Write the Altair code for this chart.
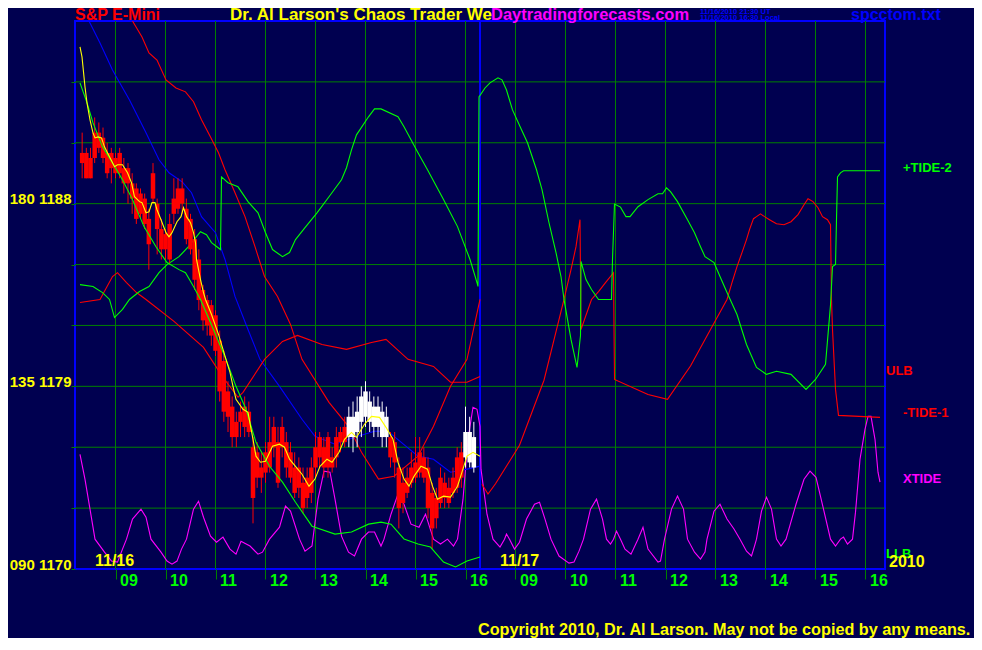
import altair as alt
import pandas as pd

BG = "#000050"
GRID = "#008000"
FONT = "Liberation Sans"

# x is session clock time in hours; the 11/17 session is shifted by +8 h so both days sit side by side
X_DOMAIN = [8.29, 24.29]
Y_DOMAIN = [1170, 1197]
DAY_SPLIT = 16.29
GRID_Y = [1173, 1176, 1179, 1182, 1185, 1188, 1191, 1194]
Y_TICKS = [1170, 1173, 1176, 1179, 1182, 1185, 1188, 1191, 1194]
Y_LABEL_PRICES = [1188, 1179, 1170]
Y_LABEL_DEGREES = ["180", "135", "090"]
HOUR_TICKS = [9, 10, 11, 12, 13, 14, 15, 16, 17, 18, 19, 20, 21, 22, 23, 24]
HOUR_LABELS = ["09", "10", "11", "12", "13", "14", "15", "16",
               "09", "10", "11", "12", "13", "14", "15", "16"]

# ---- 5 minute price bars, 11/16 ----
BAR_TIMES = (
    "08:20 08:25 08:30 08:35 08:40 08:45 08:50 08:55 "
    "09:00 09:05 09:10 09:15 09:20 09:25 09:30 09:35 09:40 09:45 09:50 09:55 "
    "10:00 10:05 10:10 10:15 10:20 10:25 10:30 10:35 10:40 10:45 10:50 10:55 "
    "11:00 11:05 11:10 11:15 11:20 11:25 11:30 11:35 11:40 11:45 11:50 11:55 "
    "12:00 12:05 12:10 12:15 12:20 12:25 12:30 12:35 12:40 12:45 12:50 12:55 "
    "13:00 13:05 13:10 13:15 13:20 13:25 13:30 13:35 13:40 13:45 13:50 13:55 "
    "14:00 14:05 14:10 14:15 14:20 14:25 14:30 14:35 14:40 14:45 14:50 14:55 "
    "15:00 15:05 15:10 15:15 15:20 15:25 15:30 15:35 15:40 15:45 15:50 15:55 "
    "16:00 16:05 16:10"
).split()
BAR_HIGH = [
    1191.5, 1190.75, 1190.75, 1192.25, 1192.0, 1191.75, 1191.0, 1190.75, 1190.5, 1190.75,
    1190.25, 1190.0, 1189.5, 1189.0, 1188.75, 1188.5, 1187.75, 1190.0, 1188.25, 1187.25,
    1186.75, 1187.5, 1189.25, 1189.25, 1189.25, 1188.25, 1187.5, 1186.75, 1185.75, 1184.0,
    1183.5, 1183.25, 1182.75, 1181.75, 1180.75, 1179.25, 1178.5, 1177.75, 1178.25, 1178.5,
    1178.25, 1176.5, 1176.25, 1175.75, 1176.25, 1177.5, 1177.5, 1177.0, 1177.5, 1176.75,
    1176.25, 1175.75, 1175.5, 1175.0, 1175.0, 1175.5, 1176.75, 1176.75, 1176.5, 1176.75,
    1176.0, 1177.0, 1177.0, 1177.5, 1178.0, 1178.25, 1178.5, 1179.0, 1179.25, 1178.75,
    1178.5, 1178.5, 1178.25, 1178.0, 1176.75, 1176.75, 1175.5, 1175.0, 1175.0, 1175.75,
    1176.5, 1176.5, 1176.0, 1175.5, 1174.25, 1174.0, 1175.0, 1174.75, 1174.5, 1175.0,
    1176.0, 1176.25, 1178.0, 1177.5, 1177.25]
BAR_LOW = [
    1189.25, 1189.25, 1189.25, 1190.0, 1190.5, 1190.0, 1189.25, 1189.0, 1189.25, 1189.25,
    1188.5, 1188.0, 1187.5, 1187.0, 1187.25, 1186.75, 1184.75, 1188.0, 1185.5, 1185.25,
    1185.25, 1185.0, 1187.0, 1187.5, 1187.5, 1186.0, 1185.5, 1183.75, 1182.75, 1181.75,
    1181.5, 1181.0, 1180.5, 1178.25, 1177.25, 1176.75, 1176.0, 1176.0, 1176.5, 1176.5,
    1176.5, 1172.25, 1174.0, 1173.75, 1174.25, 1174.75, 1175.5, 1174.0, 1175.5, 1174.5,
    1174.25, 1173.5, 1173.5, 1172.75, 1173.0, 1173.25, 1174.5, 1175.0, 1174.5, 1174.5,
    1174.75, 1175.0, 1175.75, 1176.0, 1176.0, 1175.75, 1176.0, 1176.5, 1177.0, 1176.75,
    1176.5, 1176.5, 1176.0, 1176.0, 1175.0, 1174.5, 1172.0, 1172.75, 1173.5, 1174.0,
    1174.25, 1174.5, 1174.25, 1172.5, 1171.0, 1172.0, 1173.0, 1173.0, 1173.0, 1173.5,
    1173.75, 1174.0, 1175.0, 1175.0, 1174.75]
BAR_BODY_TOP = [
    1190.5, 1190.5, 1190.25, 1191.5, 1191.5, 1191.25, 1190.5, 1190.5, 1190.25, 1190.5,
    1189.75, 1189.75, 1189.0, 1188.75, 1188.5, 1188.25, 1187.25, 1189.5, 1188.0, 1186.75,
    1186.5, 1187.0, 1188.25, 1188.75, 1188.75, 1187.75, 1187.25, 1186.25, 1185.25, 1183.75,
    1183.25, 1183.0, 1182.5, 1181.25, 1180.25, 1178.75, 1178.0, 1177.25, 1177.75, 1178.0,
    1177.75, 1176.0, 1175.75, 1175.0, 1175.75, 1176.25, 1177.0, 1176.25, 1177.0, 1176.25,
    1175.75, 1175.0, 1175.0, 1174.25, 1174.5, 1175.0, 1176.0, 1176.5, 1176.0, 1176.5,
    1175.5, 1176.5, 1176.75, 1177.0, 1177.5, 1177.5, 1177.75, 1178.5, 1178.75, 1178.25,
    1178.0, 1178.0, 1177.75, 1177.5, 1176.5, 1176.25, 1175.0, 1174.25, 1174.5, 1175.0,
    1175.25, 1175.75, 1175.5, 1175.0, 1173.75, 1173.5, 1174.5, 1174.25, 1174.0, 1174.5,
    1175.5, 1175.75, 1176.75, 1176.75, 1176.5]
BAR_BODY_BOTTOM = [
    1190.0, 1189.25, 1189.25, 1190.25, 1190.75, 1190.25, 1189.5, 1189.75, 1189.5, 1189.5,
    1189.0, 1189.0, 1188.25, 1187.25, 1187.5, 1187.0, 1186.0, 1188.25, 1186.75, 1185.75,
    1185.75, 1185.25, 1187.5, 1187.75, 1188.0, 1186.25, 1185.75, 1184.25, 1183.25, 1182.25,
    1182.0, 1181.5, 1180.75, 1178.75, 1177.75, 1177.5, 1176.5, 1176.5, 1177.25, 1177.0,
    1176.75, 1173.5, 1174.5, 1174.5, 1174.75, 1175.0, 1176.0, 1174.25, 1176.0, 1175.0,
    1174.5, 1173.75, 1174.0, 1173.0, 1173.5, 1173.75, 1175.0, 1175.5, 1175.0, 1175.0,
    1175.0, 1175.5, 1176.25, 1176.25, 1176.5, 1176.5, 1176.75, 1177.25, 1177.5, 1177.25,
    1177.0, 1177.0, 1176.5, 1176.5, 1175.5, 1175.25, 1173.0, 1173.25, 1173.75, 1174.25,
    1174.5, 1174.75, 1174.5, 1173.0, 1172.0, 1172.5, 1173.25, 1173.5, 1173.25, 1173.75,
    1174.0, 1174.5, 1175.5, 1175.25, 1175.0]
BAR_COLOR = (["red"] * 64 + ["white"] * 10 + ["red"] * 18 + ["white"] * 3)

# ---- indicator lines: (session hour, price) ----
YELLOW_AVG = [
    (8.29, 1195.72), (8.33, 1195.23), (8.39, 1193.75), (8.43, 1192.97), (8.49, 1192.13),
    (8.55, 1191.49), (8.59, 1191.24), (8.65, 1191.29), (8.72, 1191.24), (8.78, 1190.80),
    (8.88, 1190.31), (8.98, 1189.82), (9.04, 1189.92), (9.14, 1189.92), (9.24, 1189.52),
    (9.32, 1189.03), (9.38, 1188.34), (9.48, 1188.10), (9.53, 1188.05), (9.61, 1187.55),
    (9.67, 1187.60), (9.73, 1188.05), (9.79, 1188.05), (9.83, 1187.70), (9.91, 1187.21),
    (10.01, 1186.57), (10.07, 1186.37), (10.13, 1186.57), (10.23, 1187.11), (10.31, 1187.36),
    (10.36, 1187.80), (10.42, 1187.36), (10.50, 1187.06), (10.56, 1186.57), (10.60, 1186.08),
    (10.62, 1185.25), (10.70, 1184.26), (10.76, 1183.62), (10.80, 1183.28), (10.92, 1182.54),
    (11.06, 1181.56), (11.21, 1180.33), (11.29, 1179.69), (11.35, 1179.00), (11.41, 1178.36),
    (11.55, 1177.87), (11.65, 1177.72), (11.75, 1176.39), (11.81, 1175.56), (11.90, 1175.26),
    (12.00, 1175.31), (12.14, 1176.05), (12.28, 1176.15), (12.38, 1176.00), (12.48, 1175.41),
    (12.60, 1175.06), (12.73, 1174.67), (12.87, 1174.08), (12.99, 1174.43), (13.09, 1175.06),
    (13.23, 1175.41), (13.33, 1175.26), (13.47, 1175.75), (13.58, 1176.39), (13.72, 1176.73),
    (13.82, 1176.49), (13.98, 1177.13), (14.12, 1177.52), (14.28, 1177.47), (14.41, 1176.98),
    (14.55, 1176.39), (14.65, 1175.26), (14.77, 1174.43), (14.87, 1174.08), (14.97, 1174.57),
    (15.11, 1175.06), (15.24, 1174.92), (15.34, 1174.08), (15.44, 1173.44), (15.56, 1173.59),
    (15.70, 1173.54), (15.84, 1174.08), (15.93, 1174.77), (16.03, 1175.56), (16.15, 1175.75),
    (16.29, 1175.56)]
BLUE_LINE = [
    (8.47, 1197.0), (8.69, 1195.92), (8.94, 1194.59), (9.28, 1193.11), (9.61, 1191.49),
    (9.87, 1190.16), (10.07, 1189.52), (10.33, 1189.08), (10.52, 1188.54), (10.72, 1187.36),
    (11.00, 1186.57), (11.19, 1185.25), (11.39, 1183.43), (11.65, 1181.80), (11.89, 1180.33),
    (12.28, 1179.00), (12.73, 1177.38), (12.99, 1176.54), (13.39, 1176.15), (13.78, 1176.49),
    (14.18, 1176.79), (14.45, 1176.79), (14.71, 1176.25), (15.05, 1175.56), (15.36, 1175.41),
    (15.70, 1174.77), (16.03, 1174.92), (16.29, 1175.07)]
LLB = [
    (8.29, 1193.95), (8.43, 1192.97), (8.55, 1191.98), (8.74, 1190.80), (8.94, 1190.01),
    (9.14, 1189.18), (9.34, 1188.20), (9.57, 1186.87), (9.81, 1185.88), (10.03, 1185.10),
    (10.27, 1184.75), (10.40, 1184.60), (10.56, 1183.92), (10.70, 1183.28), (10.96, 1181.80),
    (11.21, 1180.33), (11.41, 1179.00), (11.61, 1177.87), (11.81, 1176.24), (12.08, 1175.06),
    (12.34, 1174.28), (12.60, 1173.29), (12.93, 1172.11), (13.39, 1171.72), (13.72, 1171.82),
    (14.06, 1172.21), (14.31, 1172.31), (14.51, 1172.21), (14.77, 1171.48), (15.05, 1171.23),
    (15.30, 1171.08), (15.56, 1170.34), (15.80, 1170.10), (16.03, 1170.39), (16.29, 1170.59)]
# red band falling from the top edge into the afternoon low, then back up at the close
RED_UPPER_DAY1 = [
    (9.34, 1197.0), (9.53, 1196.21), (9.67, 1195.43), (9.83, 1195.08), (10.01, 1194.10),
    (10.21, 1193.70), (10.40, 1193.51), (10.56, 1193.02), (10.72, 1192.13), (10.90, 1191.29),
    (11.06, 1190.51), (11.19, 1189.67), (11.39, 1188.54), (11.59, 1187.36), (11.79, 1185.88),
    (11.98, 1184.41), (12.24, 1183.43), (12.50, 1182.05), (12.73, 1180.33), (13.27, 1178.21),
    (13.66, 1177.03), (13.92, 1175.75), (14.26, 1174.43), (14.57, 1174.57), (15.05, 1175.56),
    (15.36, 1177.03), (15.70, 1179.00), (16.03, 1180.33), (16.29, 1183.28)]
# red band starting mid-chart on the left
RED_LOWER_DAY1 = [
    (8.29, 1183.13), (8.69, 1183.28), (8.94, 1184.41), (9.04, 1184.60), (9.22, 1184.11),
    (9.42, 1183.62), (9.61, 1183.28), (10.17, 1182.20), (10.76, 1180.92), (11.15, 1179.44),
    (11.45, 1178.46), (11.55, 1178.70), (11.98, 1180.33), (12.34, 1181.21), (12.64, 1181.51),
    (13.13, 1181.06), (13.62, 1180.82), (14.12, 1181.16), (14.41, 1181.31), (14.85, 1180.33),
    (15.36, 1179.98), (15.70, 1179.20), (16.03, 1179.20), (16.29, 1179.49)]
TIDE_MINUS_1_DAY2 = [
    (16.33, 1174.18), (16.45, 1173.69), (16.60, 1174.20), (17.08, 1176.10), (17.57, 1179.30),
    (17.97, 1183.28), (18.11, 1184.75), (18.21, 1185.88), (18.29, 1187.21), (18.31, 1181.80),
    (18.52, 1183.28), (18.66, 1183.67), (18.80, 1184.11), (18.96, 1184.60), (18.98, 1179.34),
    (19.65, 1178.60), (20.04, 1178.36), (20.50, 1180.00), (20.90, 1181.80), (21.23, 1183.28),
    (21.33, 1184.11), (21.43, 1184.90), (21.53, 1185.59), (21.62, 1186.23), (21.68, 1186.72),
    (21.76, 1187.26), (21.82, 1187.36), (21.90, 1187.50), (21.98, 1187.36), (22.08, 1187.21),
    (22.22, 1187.01), (22.37, 1186.96), (22.51, 1187.11), (22.65, 1187.46), (22.77, 1187.95),
    (22.85, 1188.24), (22.95, 1188.10), (23.05, 1187.80), (23.14, 1187.36), (23.24, 1187.21),
    (23.30, 1186.96), (23.32, 1183.28), (23.34, 1181.80), (23.40, 1178.85), (23.46, 1177.57),
    (24.29, 1177.47)]
TIDE_PLUS_2 = [
    (8.29, 1184.01), (8.55, 1183.92), (8.74, 1183.62), (8.88, 1183.28), (8.98, 1182.39),
    (9.14, 1182.79), (9.28, 1183.28), (9.48, 1183.67), (9.67, 1183.92), (9.87, 1184.60),
    (10.03, 1185.00), (10.27, 1185.39), (10.46, 1185.88), (10.70, 1186.62), (10.82, 1186.47),
    (10.92, 1186.08), (11.10, 1185.74), (11.12, 1189.32), (11.25, 1189.03), (11.45, 1188.83),
    (11.65, 1188.10), (11.85, 1187.55), (12.00, 1186.57), (12.14, 1185.74), (12.34, 1185.39),
    (12.48, 1185.59), (12.60, 1186.23), (12.79, 1186.82), (13.03, 1187.55), (13.27, 1188.34),
    (13.52, 1189.18), (13.62, 1189.77), (13.72, 1190.65), (13.82, 1191.39), (14.06, 1192.28),
    (14.18, 1192.67), (14.31, 1192.67), (14.65, 1192.28), (14.77, 1191.79), (15.05, 1190.51),
    (15.24, 1189.67), (15.56, 1188.20), (15.84, 1186.87), (16.09, 1185.25), (16.23, 1184.11),
    (16.25, 1183.92), (16.27, 1193.26), (16.39, 1193.70), (16.49, 1193.95), (16.65, 1194.20),
    (16.73, 1194.10), (16.82, 1193.60), (16.94, 1192.62), (17.12, 1191.64), (17.24, 1191.00),
    (17.42, 1189.67), (17.53, 1188.69), (17.67, 1187.06), (17.81, 1185.59), (17.91, 1184.41),
    (17.97, 1183.28), (18.11, 1181.31), (18.23, 1179.93), (18.30, 1181.50), (18.31, 1185.15),
    (18.41, 1184.26), (18.52, 1183.77), (18.66, 1183.28), (18.92, 1183.28), (18.94, 1185.25),
    (18.98, 1187.98), (19.10, 1187.83), (19.21, 1187.36), (19.29, 1187.36), (19.45, 1187.85),
    (19.65, 1188.20), (19.85, 1188.49), (19.94, 1188.49), (20.02, 1188.78), (20.10, 1188.59),
    (20.24, 1188.10), (20.44, 1187.21), (20.58, 1186.57), (20.70, 1185.88), (20.79, 1185.39),
    (20.97, 1185.10), (21.09, 1184.41), (21.23, 1183.62), (21.43, 1182.54), (21.62, 1181.06),
    (21.82, 1179.93), (22.02, 1179.59), (22.22, 1179.74), (22.51, 1179.59), (22.81, 1178.85),
    (23.00, 1179.34), (23.20, 1180.08), (23.30, 1183.00), (23.34, 1184.90), (23.40, 1185.00),
    (23.42, 1187.21), (23.44, 1189.32), (23.50, 1189.52), (23.56, 1189.62), (23.99, 1189.62),
    (24.03, 1189.62), (24.29, 1189.62)]
XTIDE = [
    (8.29, 1175.65), (8.39, 1174.42), (8.49, 1172.95), (8.59, 1171.47), (8.78, 1170.83),
    (8.92, 1170.39), (9.04, 1170.34), (9.14, 1170.98), (9.22, 1171.47), (9.34, 1172.46),
    (9.51, 1172.95), (9.61, 1172.55), (9.71, 1171.47), (9.91, 1170.83), (10.03, 1170.39),
    (10.13, 1170.24), (10.23, 1170.39), (10.32, 1170.98), (10.42, 1171.47), (10.56, 1172.95),
    (10.66, 1173.34), (10.76, 1172.55), (10.90, 1171.62), (11.02, 1171.32), (11.15, 1171.57),
    (11.29, 1170.98), (11.41, 1170.73), (11.51, 1171.37), (11.69, 1171.13), (11.85, 1170.73),
    (11.94, 1170.83), (12.08, 1171.47), (12.28, 1172.06), (12.40, 1173.10), (12.50, 1172.85),
    (12.68, 1171.47), (12.79, 1170.88), (12.93, 1171.13), (13.05, 1173.44), (13.17, 1174.82),
    (13.29, 1174.77), (13.39, 1173.44), (13.52, 1171.62), (13.66, 1170.83), (13.78, 1170.64),
    (13.92, 1171.47), (14.06, 1171.82), (14.18, 1171.82), (14.31, 1171.13), (14.37, 1171.47),
    (14.51, 1172.70), (14.65, 1173.69), (14.77, 1173.19), (14.91, 1172.21), (15.07, 1172.06),
    (15.20, 1172.70), (15.36, 1171.47), (15.50, 1171.23), (15.64, 1171.47), (15.76, 1171.13),
    (15.84, 1171.47), (15.95, 1173.44), (16.05, 1176.39), (16.15, 1177.97), (16.23, 1177.87),
    (16.29, 1177.03), (16.31, 1174.92), (16.43, 1172.70), (16.55, 1171.47), (16.69, 1171.08),
    (16.78, 1171.47), (16.82, 1171.72), (16.88, 1171.47), (16.98, 1170.98), (17.08, 1171.32),
    (17.22, 1172.46), (17.38, 1173.19), (17.48, 1173.29), (17.59, 1172.46), (17.71, 1171.47),
    (17.87, 1170.64), (18.07, 1170.29), (18.17, 1170.34), (18.27, 1170.88), (18.36, 1171.47),
    (18.50, 1172.95), (18.62, 1173.44), (18.74, 1172.46), (18.82, 1171.47), (18.90, 1171.23),
    (18.96, 1171.47), (19.02, 1171.87), (19.10, 1171.47), (19.19, 1170.98), (19.31, 1170.73),
    (19.45, 1171.47), (19.55, 1172.06), (19.65, 1170.98), (19.85, 1170.34), (19.90, 1170.39),
    (19.98, 1171.47), (20.12, 1172.95), (20.24, 1173.59), (20.36, 1172.95), (20.44, 1171.47),
    (20.58, 1170.83), (20.70, 1170.49), (20.79, 1170.83), (20.83, 1171.47), (20.97, 1172.85),
    (21.09, 1173.19), (21.23, 1172.46), (21.37, 1171.97), (21.49, 1171.47), (21.62, 1170.88),
    (21.72, 1170.64), (21.78, 1171.13), (21.82, 1171.47), (21.92, 1172.85), (22.02, 1173.54),
    (22.12, 1172.95), (22.22, 1171.47), (22.31, 1171.13), (22.41, 1171.47), (22.61, 1173.19),
    (22.77, 1174.42), (22.89, 1174.82), (23.01, 1174.52), (23.16, 1172.95), (23.30, 1171.47),
    (23.40, 1171.13), (23.50, 1171.47), (23.56, 1171.57), (23.64, 1171.23), (23.74, 1171.47),
    (23.80, 1172.80), (23.89, 1175.41), (23.99, 1176.88), (24.05, 1177.52), (24.11, 1177.52),
    (24.19, 1176.39), (24.25, 1174.77), (24.29, 1174.28)]

# drawing order: first drawn is at the back
LINE_SERIES = [
    (XTIDE, "#ff00ff"),
    (BLUE_LINE, "#0000ff"),
    (RED_UPPER_DAY1, "#ff0000"),
    (RED_LOWER_DAY1, "#ff0000"),
    (TIDE_MINUS_1_DAY2, "#ff0000"),
    (TIDE_PLUS_2, "#00ff00"),
]

# ---------------- build tables ----------------
bar_rows = []
for i, hm in enumerate(BAR_TIMES):
    h, m = hm.split(":")
    bar_rows.append({
        "t": int(h) + int(m) / 60.0,
        "high": BAR_HIGH[i], "low": BAR_LOW[i],
        "top": BAR_BODY_TOP[i], "bottom": BAR_BODY_BOTTOM[i],
        "col": BAR_COLOR[i],
    })
bars_df = pd.DataFrame(bar_rows)

hours_df = pd.DataFrame({"t": HOUR_TICKS})
gridy_df = pd.DataFrame({"v": GRID_Y})
split_df = pd.DataFrame({"t": [DAY_SPLIT]})
one = pd.DataFrame({"k": [0]})

x_label_expr = " : ".join(
    f"datum.value == {v} ? '{l}'" for v, l in zip(HOUR_TICKS, HOUR_LABELS)) + " : ''"
y_label_expr = " : ".join(
    f"datum.value == {p} ? '{d} {p}'" for p, d in zip(Y_LABEL_PRICES, Y_LABEL_DEGREES)) + " : ''"

X_SCALE = alt.Scale(domain=X_DOMAIN, zero=False, nice=False)
Y_SCALE = alt.Scale(domain=Y_DOMAIN, zero=False, nice=False)
X_AXIS = alt.Axis(values=HOUR_TICKS, labelExpr=x_label_expr, grid=False, domain=False,
                  ticks=True, tickColor=GRID, tickSize=10, tickWidth=1,
                  labelColor="#00ff00", labelFont=FONT, labelFontSize=16, labelFontWeight="bold",
                  labelAlign="left", labelBaseline="top", labelPadding=-7, labelOffset=4,
                  labelFlush=False, labelOverlap=False, labelBound=False, title=None)
Y_AXIS = alt.Axis(values=Y_TICKS, labelExpr=y_label_expr, grid=False, domain=False,
                  ticks=True, tickColor=GRID, tickSize=4, tickWidth=1,
                  labelColor="#ffff00", labelFont=FONT, labelFontSize=15, labelFontWeight="bold",
                  labelAlign="right", labelBaseline="alphabetic", labelPadding=0,
                  labelFlush=False, labelOverlap=False, labelBound=False, title=None)


def X(field):
    return alt.X(field, type="quantitative", scale=X_SCALE, axis=X_AXIS)


def Y(field):
    return alt.Y(field, type="quantitative", scale=Y_SCALE, axis=Y_AXIS)


def line_layer(points, color):
    df = pd.DataFrame([{"t": t, "v": v, "idx": i} for i, (t, v) in enumerate(points)])
    return alt.Chart(df).mark_line(color=color, strokeWidth=1.1, clip=True).encode(
        x=X("t"), y=Y("v"), order="idx:Q")


grid_h = alt.Chart(gridy_df).mark_rule(color=GRID, strokeWidth=1).encode(y=Y("v"))
grid_v = alt.Chart(hours_df).mark_rule(color=GRID, strokeWidth=1).encode(x=X("t"))
split = alt.Chart(split_df).mark_rule(color="#0000ff", strokeWidth=2).encode(x=X("t"))

back_lines = [line_layer(pts, c) for pts, c in LINE_SERIES]

bar_layers = []
for flag, c in (("red", "#ff0000"), ("white", "#ffffff")):
    base = alt.Chart(bars_df).transform_filter(alt.datum.col == flag)
    bar_layers.append(base.mark_rule(color=c, strokeWidth=1).encode(x=X("t"), y=Y("low"), y2="high"))
    bar_layers.append(base.mark_bar(color=c, size=4.5).encode(x=X("t"), y=Y("bottom"), y2="top"))

llb_line = line_layer(LLB, "#00ff00")
yellow = line_layer(YELLOW_AVG, "#ffff00")


def label(text, x, y, color, size, weight="bold"):
    return alt.Chart(one).mark_text(
        text=text, color=color, fontSize=size, font=FONT, fontWeight=weight,
        align="left", baseline="alphabetic").encode(x=alt.value(x), y=alt.value(y))


# positions are relative to the plot area's top-left corner
labels = [
    label("S&P E-Mini", 0, -1.5, "#ff0000", 16),
    label("Dr. Al Larson's Chaos Trader We", 155, -1.5, "#ffff00", 17),
    label("Daytradingforecasts.com", 416, -1.5, "#ff00ff", 16.5),
    label("11/16/2010 21:30 UT", 625, -7, "#0000ff", 7.5),
    label("11/16/2010 16:30 Local", 625, -1.3, "#0000ff", 7.5),
    label("spcctom.txt", 776, -1.5, "#0000ff", 16),
    label("11/16", 20, 545, "#ffff00", 16),
    label("11/17", 425, 545, "#ffff00", 16),
    label("+TIDE-2", 828, 151, "#00ff00", 13),
    label("ULB", 811, 354, "#ff0000", 13),
    label("-TIDE-1", 828, 396, "#ff0000", 13),
    label("XTIDE", 828, 462, "#ff00ff", 13),
    label("LLB", 811, 537, "#00ff00", 13),
    label("2010", 814, 546, "#ffff00", 16),
    label("Copyright 2010, Dr. Al Larson. May not be copied by any means.", 403, 614, "#ffff00", 16.2),
]

chart = alt.layer(
    grid_h, grid_v, split, *back_lines, *bar_layers, llb_line, yellow, *labels
).properties(
    width=810, height=548, background=BG,
    padding={"left": 67, "top": 13, "right": 89, "bottom": 69},
    autosize=alt.AutoSizeParams(type="none"),
).configure_view(stroke="#0000ff", strokeWidth=2)

chart.save("out.html", embed_options={"renderer": "svg", "actions": False})
